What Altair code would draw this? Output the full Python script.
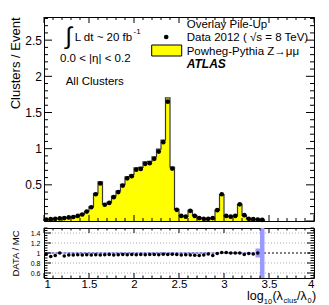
import altair as alt
import pandas as pd

# ---------------- data ----------------
bin_width = 0.05
bin_lo = [round(1.0 + bin_width * i, 2) for i in range(49)]  # 1.00 ... 3.40

data_vals = [0.02, 0.025, 0.03, 0.035, 0.04, 0.05, 0.055, 0.07, 0.09, 0.13,
             0.19, 0.37, 0.52, 0.225, 0.25, 0.33, 0.40, 0.49, 0.59, 0.62,
             0.71, 0.72, 0.79, 0.80, 0.86, 0.96, 1.09, 1.65, 0.725, 0.155,
             0.07, 0.06, 0.14, 0.07, 0.04, 0.03, 0.03, 0.04, 0.15, 0.37,
             0.07, 0.06, 0.07, 0.23, 0.08, 0.03, 0.025, 0.02, 0.015]

ratio_vals = [0.98, 0.93, 0.95, 1.00, 0.94, 0.96, 0.96, 0.965, 0.96, 0.965,
              0.96, 0.965, 0.96, 0.965, 0.97, 0.96, 0.965, 0.97, 0.965, 0.97,
              0.965, 0.97, 0.965, 0.97, 0.97, 0.965, 0.975, 0.97, 0.975, 0.97,
              0.96, 0.965, 0.96, 0.955, 0.95, 0.96, 0.98, 0.95, 0.99, 1.01,
              1.01, 1.00, 1.00, 1.00, 0.97, 0.99, 0.98, 1.00, None]

ratio_err = [0.012] * 47 + [0.09, 1.0]

mc_vals = [d / r if r else d for d, r in zip(data_vals, ratio_vals)]

main_yticks = [0.5, 1, 1.5, 2, 2.5]
ratio_yticks = [0.6, 0.8, 1, 1.2, 1.4]
x_ticks = [1, 1.5, 2, 2.5, 3, 3.5, 4]

# ---------------- geometry ----------------
W = 270
H1 = 204
H2 = 50
FONT = "Liberation Sans"
LBL = "'' + datum.value"

xs = alt.Scale(domain=[1, 4], nice=False, zero=False)
ys1 = alt.Scale(domain=[0, 2.82], nice=False, zero=False)
ys2 = alt.Scale(domain=[0.5, 1.5], nice=False, zero=False)

AX_MAIN_Y = alt.Axis(
    values=main_yticks, labelExpr=LBL, title="Clusters / Event", grid=False, ticks=False,
    tickSize=0, domain=False, labelFontSize=12, labelPadding=2.5, labelFont=FONT,
    titleFont=FONT, titleFontSize=13, titleFontWeight="normal", titleAnchor="end",
    titleAngle=270, titleBaseline="middle", titleX=-29)
AX_RATIO_X = alt.Axis(
    values=x_ticks, labelExpr=LBL, title=None, grid=False, ticks=False, tickSize=0,
    domain=False, labelFontSize=11.5, labelPadding=0, labelFont=FONT)
AX_RATIO_Y = alt.Axis(
    values=ratio_yticks, labelExpr=LBL, title="DATA / MC", grid=False, ticks=False,
    tickSize=0, domain=False, labelFontSize=7, labelPadding=4, labelFont=FONT,
    titleFont=FONT, titleFontSize=9.5, titleFontWeight="normal", titleAngle=270,
    titleBaseline="middle", titleX=-29)


def frange(a, b, step):
    n = int(round((b - a) / step))
    return [round(a + step * k, 4) for k in range(n + 1)]


def yticks(values, yscale, yaxis, length, width):
    df = pd.DataFrame({"y": values})
    left = alt.Chart(df).mark_rule(color="black", strokeWidth=1).encode(
        y=alt.Y("y:Q", scale=yscale, axis=yaxis), x=alt.value(0), x2=alt.value(length))
    right = alt.Chart(df).mark_rule(color="black", strokeWidth=1).encode(
        y=alt.Y("y:Q", scale=yscale, axis=yaxis), x=alt.value(width - length), x2=alt.value(width))
    return [left, right]


def xticks(values, xaxis, length, height):
    df = pd.DataFrame({"x": values})
    bottom = alt.Chart(df).mark_rule(color="black", strokeWidth=1).encode(
        x=alt.X("x:Q", scale=xs, axis=xaxis), y=alt.value(height - length), y2=alt.value(height))
    top = alt.Chart(df).mark_rule(color="black", strokeWidth=1).encode(
        x=alt.X("x:Q", scale=xs, axis=xaxis), y=alt.value(0), y2=alt.value(length))
    return [bottom, top]


def label(text, px, py, size=11.5, weight="normal", style="normal", align="left",
          baseline="alphabetic"):
    return alt.Chart(pd.DataFrame({"t": [text]})).mark_text(
        font=FONT, fontSize=size, fontWeight=weight, fontStyle=style, align=align,
        baseline=baseline, color="black").encode(
        text="t:N", x=alt.value(px), y=alt.value(py))


# ---------------- main panel ----------------
area_df = pd.DataFrame({"x": bin_lo + [3.45], "y": mc_vals + [mc_vals[-1]]})
line_df = pd.DataFrame({"x": [1.0] + bin_lo + [3.45, 3.45],
                        "y": [0.0] + mc_vals + [mc_vals[-1], 0.0]})
line_df["i"] = range(len(line_df))
pts_df = pd.DataFrame({"x": [b + bin_width / 2 for b in bin_lo], "y": data_vals})

area = alt.Chart(area_df).mark_area(interpolate="step-after", color="#ffff00").encode(
    x=alt.X("x:Q", scale=xs, axis=None),
    y=alt.Y("y:Q", scale=ys1, axis=AX_MAIN_Y))

outline = alt.Chart(line_df).mark_line(interpolate="step-after", color="#3a3a3a",
                                       strokeWidth=1.2).encode(
    x=alt.X("x:Q", scale=xs, axis=None),
    y=alt.Y("y:Q", scale=ys1, axis=AX_MAIN_Y),
    order="i:Q")

pts = alt.Chart(pts_df).mark_circle(color="black", opacity=1, size=22).encode(
    x=alt.X("x:Q", scale=xs, axis=None),
    y=alt.Y("y:Q", scale=ys1, axis=AX_MAIN_Y))

main_layers = [area, outline, pts]
main_layers += yticks(frange(0, 2.5, 0.5), ys1, AX_MAIN_Y, 8, W)
main_layers += yticks([v for v in frange(0, 2.8, 0.1) if round(v * 2, 4) % 1 != 0],
                      ys1, AX_MAIN_Y, 4, W)
main_layers += xticks(frange(1, 4, 0.5), None, 6, H1)
main_layers += xticks([v for v in frange(1, 4, 0.1) if round(v * 2, 4) % 1 != 0], None, 3, H1)

# annotations
main_layers += [
    label("\u222b", 24.7, 20, size=24, align="center", baseline="middle"),
    label("L dt ~ 20 fb", 30.7, 24),
    label("-1", 89.5, 17, size=8),
    label("0.0 < |\u03b7| < 0.2", 16, 45),
    label("All Clusters", 21.7, 68),
    label("Overlay Pile-Up", 142.7, 10.5),
    label("Data 2012 ( \u221as = 8 TeV)", 142.7, 23.5),
    label("Powheg-Pythia Z\u2192\u03bc\u03bc", 142.7, 37.5),
    label("ATLAS", 142.7, 51, size=12, weight="bold", style="italic"),
]
legend_dot = alt.Chart(pd.DataFrame({"k": [0]})).mark_circle(
    color="black", opacity=1, size=22).encode(x=alt.value(122.2), y=alt.value(20))
legend_box = alt.Chart(pd.DataFrame({"k": [0]})).mark_rect(
    color="#ffff00", stroke="black", strokeWidth=1).encode(
    x=alt.value(107.7), x2=alt.value(137.7), y=alt.value(28), y2=alt.value(39))
main_layers += [legend_dot, legend_box]

main = alt.layer(*main_layers).properties(width=W, height=H1)

# ---------------- ratio panel ----------------
band_df = pd.DataFrame({
    "x": bin_lo,
    "hi": [b + bin_width for b in bin_lo],
    "y": [1 - e for e in ratio_err],
    "b2": [1 + e for e in ratio_err],
})
rpts_df = pd.DataFrame({"x": [b + bin_width / 2 for b in bin_lo], "y": ratio_vals}).dropna()

band = alt.Chart(band_df).mark_rect(color="#9a9aff", clip=True).encode(
    x=alt.X("x:Q", scale=xs, axis=AX_RATIO_X), x2="hi:Q",
    y=alt.Y("y:Q", scale=ys2, axis=AX_RATIO_Y), y2="b2:Q")

grid_df = pd.DataFrame({"y": [0.6, 0.8, 1.2, 1.4]})
grid = alt.Chart(grid_df).mark_rule(color="#aaaaaa", strokeWidth=1, strokeDash=[1, 2]).encode(
    y=alt.Y("y:Q", scale=ys2, axis=AX_RATIO_Y))
unity = alt.Chart(pd.DataFrame({"y": [1.0]})).mark_rule(
    color="black", strokeWidth=1, strokeDash=[2, 2]).encode(
    y=alt.Y("y:Q", scale=ys2, axis=AX_RATIO_Y))

rpts = alt.Chart(rpts_df).mark_circle(color="black", opacity=1, size=13).encode(
    x=alt.X("x:Q", scale=xs, axis=AX_RATIO_X),
    y=alt.Y("y:Q", scale=ys2, axis=AX_RATIO_Y))

ratio_layers = [grid, unity, band, rpts]
ratio_layers += yticks(frange(0.6, 1.4, 0.2), ys2, AX_RATIO_Y, 7, W)
ratio_layers += yticks([v for v in frange(0.5, 1.5, 0.05)
                        if round(v * 5, 4) % 1 != 0], ys2, AX_RATIO_Y, 3.5, W)
ratio_layers += xticks(frange(1, 4, 0.5), AX_RATIO_X, 5, H2)
ratio_layers += xticks([v for v in frange(1, 4, 0.1) if round(v * 2, 4) % 1 != 0],
                       AX_RATIO_X, 2.5, H2)

# x-axis title log10(lambda_clus / lambda_0) built from pieces
TY = 71.5
ratio_layers += [
    label("log", 203.0, TY, size=12.5),
    label("10", 219.8, TY + 4.3, size=7.5),
    label("(\u03bb", 228.4, TY, size=12.5),
    label("clus", 239.6, TY + 3.0, size=7.5),
    label("/\u03bb", 253.0, TY, size=12.5),
    label("0", 263.6, TY + 3.0, size=7.5),
    label(")", 268.0, TY, size=12.5),
]

ratio = alt.layer(*ratio_layers).properties(width=W, height=H2)

chart = alt.vconcat(main, ratio, spacing=7, bounds="flush").properties(
    padding={"left": 0, "top": 8, "right": 2, "bottom": 0}
).configure(font=FONT).configure_view(stroke="black", strokeWidth=1).configure_axis(
    labelColor="black", titleColor="black")

chart.save("out.html", embed_options={"renderer": "svg", "actions": False})
